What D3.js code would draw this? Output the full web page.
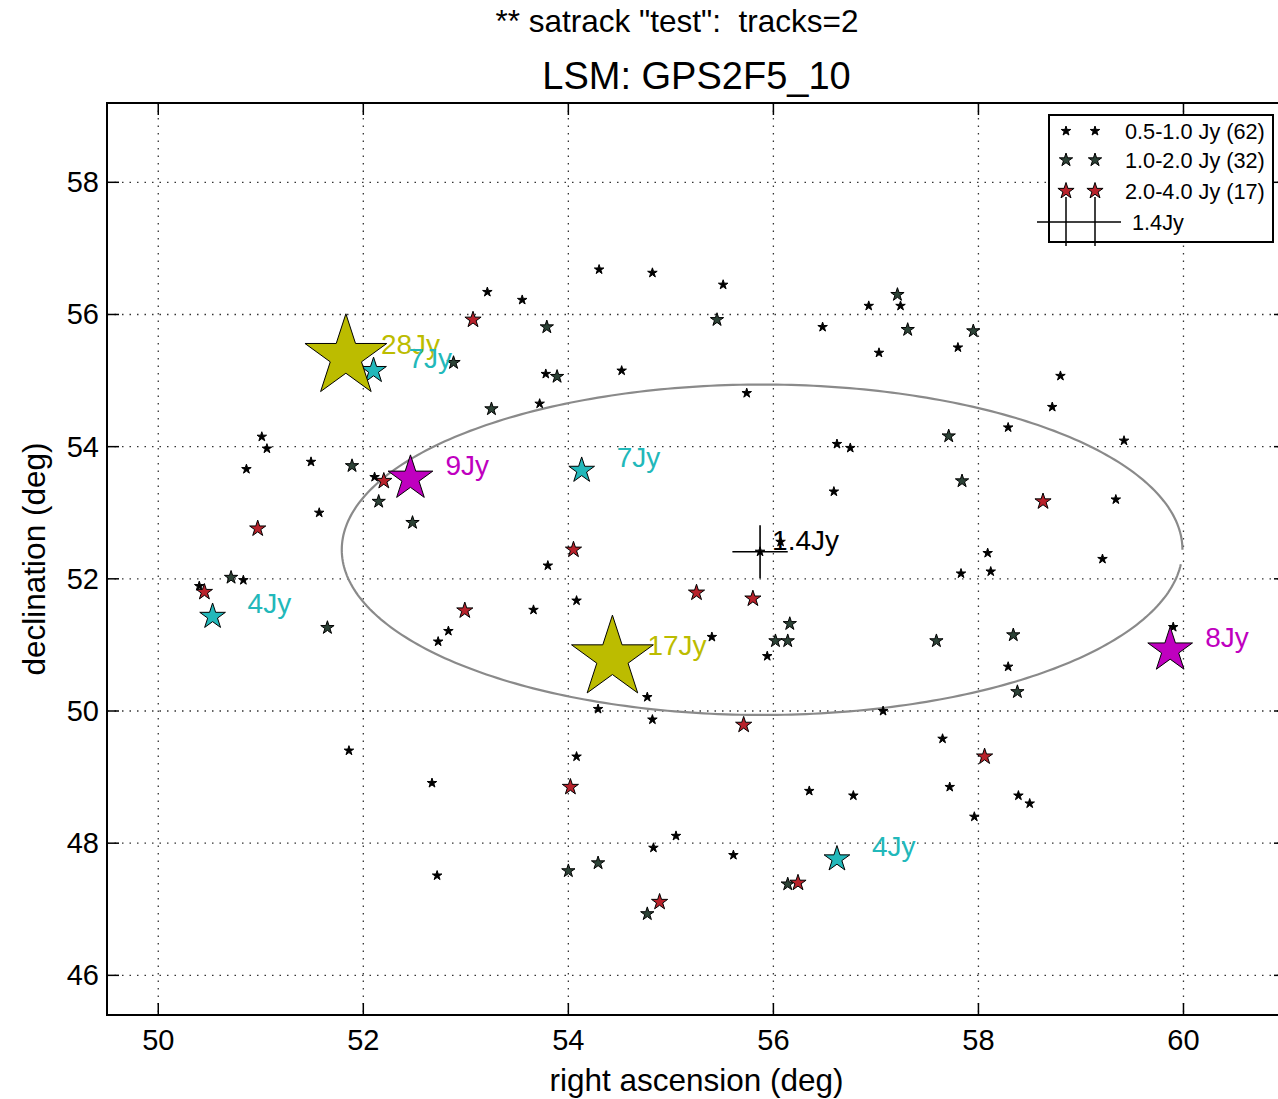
<!DOCTYPE html>
<html>
<head>
<meta charset="utf-8">
<script src="https://cdn.jsdelivr.net/npm/d3@7"></script>
<style>
  html, body { margin: 0; padding: 0; background: #fff; }
  svg text { font-family: "Liberation Sans", Arial, sans-serif; white-space: pre; }
</style>
</head>
<body>
<svg id="chart" width="1278" height="1099"></svg>
<script>
// Sky model sources: right ascension / declination (deg)
const faintRA  = [54.30,54.82,55.51,53.21,53.55,56.48,56.93,57.24,57.80,57.03,58.80,58.72,58.29,59.42,59.34,54.52,53.78,53.72,55.74,56.62,56.75,56.59,51.01,51.06,51.49,50.86,52.11,51.57,50.40,50.83,52.83,52.73,51.86,52.67,53.80,56.07,54.08,53.66,55.40,55.94,54.77,54.29,54.82,57.07,54.08,56.35,56.78,55.05,58.09,59.21,57.83,58.12,59.90,58.29,57.65,57.72,58.39,58.50,57.96,54.83,52.72,55.61];
const faintDec = [56.68,56.63,56.45,56.34,56.22,55.81,56.13,56.13,55.50,55.42,55.07,54.60,54.29,54.09,53.20,55.15,55.10,54.65,54.81,54.04,53.98,53.32,54.15,53.97,53.77,53.66,53.54,53.00,51.89,51.98,51.21,51.05,49.40,48.91,52.20,52.56,51.67,51.53,51.12,50.83,50.21,50.03,49.87,50.00,49.31,48.79,48.72,48.11,52.39,52.30,52.08,52.11,51.27,50.67,49.58,48.85,48.72,48.60,48.40,47.93,47.51,47.82];

const midRA  = [55.45,53.79,57.21,57.31,57.95,57.71,57.84,53.89,52.88,53.25,51.89,52.15,52.48,50.71,51.65,56.16,56.02,56.14,57.59,58.34,58.38,54.29,54.00,54.77,56.14];
const midDec = [55.92,55.81,56.30,55.77,55.75,54.16,53.48,55.06,55.27,54.57,53.71,53.17,52.85,52.02,51.26,51.32,51.06,51.06,51.06,51.15,50.29,47.70,47.58,46.93,47.38];

const brightRA  = [53.07,58.63,52.20,50.97,50.45,52.99,54.05,55.25,55.80,55.71,54.02,58.06,54.89,56.24];
const brightDec = [55.92,53.17,53.48,52.76,51.80,51.52,52.44,51.79,51.70,49.79,48.85,49.31,47.11,47.40];

// Strong sources, labelled with their flux
const strongRA   = [52.10,54.13,50.53,56.62,52.46,59.87,51.83,54.43];
const strongDec  = [55.15,53.64,51.43,47.76,53.52,50.92,55.36,50.80];
const strongFlux = [7, 7, 4, 4, 9, 8, 28, 17];

// Central source with error bars
const centreRA = 55.87, centreDec = 52.41, centreFlux = 1.4;
const centreErrRA = 0.27, centreErrDec = 0.40;

// Ellipse around the field centre
const ellRA = 55.89, ellDec = 52.44, ellHalfRA = 4.1, ellHalfDec = 2.5;

const legendLabels = ["0.5-1.0 Jy (62)", "1.0-2.0 Jy (32)", "2.0-4.0 Jy (17)", "1.4Jy"];
const xTicks = [50, 52, 54, 56, 58, 60];
const yTicks = [46, 48, 50, 52, 54, 56, 58];

const svg = d3.select("#chart");
const plotL = 107, plotR = 1286, plotT = 103, plotB = 1015;
const x = d3.scaleLinear().domain([49.5, 61]).range([plotL, plotR]);
const y = d3.scaleLinear().domain([45.4, 59.2]).range([plotB, plotT]);

// five-pointed star path centred at 0,0
function starPath(R) {
  const r = R * 0.382, pts = [];
  for (let i = 0; i < 10; i++) {
    const a = -Math.PI / 2 + i * Math.PI / 5;
    const rr = i % 2 === 0 ? R : r;
    pts.push([rr * Math.cos(a), rr * Math.sin(a)]);
  }
  return "M" + pts.map(p => p[0].toFixed(2) + "," + p[1].toFixed(2)).join("L") + "Z";
}

const styles = {
  faint:  { R: 5,    fill: "#000000" },
  mid:    { R: 7,    fill: "#2c4236" },
  bright: { R: 8.5,  fill: "#b8222b" },
  cyan:   { R: 13.5, fill: "#22b8ba" },
  mag:    { R: 23.5, fill: "#bf00bf" },
  yel:    { R: 43,   fill: "#bcbc00" }
};
function strongStyle(f) { return f >= 16 ? styles.yel : (f >= 8 ? styles.mag : styles.cyan); }

// grid
const grid = svg.append("g").attr("stroke", "#333").attr("stroke-width", 1.3).attr("stroke-dasharray", "1.5,6");
grid.selectAll("line.gx").data(xTicks).join("line")
  .attr("x1", d => x(d)).attr("x2", d => x(d)).attr("y1", plotT).attr("y2", plotB);
grid.selectAll("line.gy").data(yTicks).join("line")
  .attr("y1", d => y(d)).attr("y2", d => y(d)).attr("x1", plotL).attr("x2", plotR);

// ellipse (drawn as an open outline)
const ellPts = d3.range(0, 356, 1).map(t => {
  const a = t * Math.PI / 180;
  return [x(ellRA + ellHalfRA * Math.cos(a)), y(ellDec + ellHalfDec * Math.sin(a))];
});
svg.append("path").attr("d", d3.line()(ellPts)).attr("fill", "none")
  .attr("stroke", "#8a8a8a").attr("stroke-width", 2.2);

function drawStars(ra, dec, st) {
  svg.append("g").selectAll("path").data(ra.map((r, i) => [r, dec[i]])).join("path")
    .attr("transform", d => `translate(${x(d[0])},${y(d[1])})`)
    .attr("d", starPath(st.R)).attr("fill", st.fill)
    .attr("stroke", "#000").attr("stroke-width", 1).attr("stroke-linejoin", "miter");
}
drawStars(faintRA, faintDec, styles.faint);
drawStars(midRA, midDec, styles.mid);
drawStars(brightRA, brightDec, styles.bright);

const strong = strongRA.map((r, i) => ({ ra: r, dec: strongDec[i], f: strongFlux[i] }));
const order = strong.slice().sort((a, b) => a.f - b.f);
order.forEach(s => drawStars([s.ra], [s.dec], strongStyle(s.f)));

// flux labels
const labelOrder = strong.slice().sort((a, b) => b.f - a.f);
svg.append("g").selectAll("text").data(labelOrder).join("text")
  .attr("x", d => x(d.ra) + 35).attr("y", d => y(d.dec) - 3)
  .attr("font-size", 28).attr("fill", d => strongStyle(d.f).fill)
  .text(d => d.f + "Jy");

// central source with error bars
const cg = svg.append("g").attr("stroke", "#000").attr("stroke-width", 1.6);
cg.append("line").attr("x1", x(centreRA - centreErrRA)).attr("x2", x(centreRA + centreErrRA))
  .attr("y1", y(centreDec)).attr("y2", y(centreDec));
cg.append("line").attr("x1", x(centreRA)).attr("x2", x(centreRA))
  .attr("y1", y(centreDec - centreErrDec)).attr("y2", y(centreDec + centreErrDec));
drawStars([centreRA], [centreDec], styles.faint);
svg.append("text").attr("x", x(centreRA) + 12).attr("y", y(centreDec) - 2)
  .attr("font-size", 28).attr("fill", "#000").text(centreFlux + "Jy");

// frame and ticks
svg.append("rect").attr("x", plotL).attr("y", plotT).attr("width", plotR - plotL).attr("height", plotB - plotT)
  .attr("fill", "none").attr("stroke", "#000").attr("stroke-width", 2);
const tk = svg.append("g").attr("stroke", "#000").attr("stroke-width", 1.5);
xTicks.forEach(t => {
  tk.append("line").attr("x1", x(t)).attr("x2", x(t)).attr("y1", plotB).attr("y2", plotB - 12);
  tk.append("line").attr("x1", x(t)).attr("x2", x(t)).attr("y1", plotT).attr("y2", plotT + 12);
});
yTicks.forEach(t => {
  tk.append("line").attr("y1", y(t)).attr("y2", y(t)).attr("x1", plotL).attr("x2", plotL + 12);
  tk.append("line").attr("y1", y(t)).attr("y2", y(t)).attr("x1", plotR).attr("x2", plotR - 12);
});
svg.append("g").selectAll("text").data(xTicks).join("text")
  .attr("x", d => x(d)).attr("y", 1050).attr("text-anchor", "middle")
  .attr("font-size", 29).attr("fill", "#000").text(d => d);
svg.append("g").selectAll("text").data(yTicks).join("text")
  .attr("x", 99).attr("y", d => y(d) + 10).attr("text-anchor", "end")
  .attr("font-size", 29).attr("fill", "#000").text(d => d);

// axis labels and titles
svg.append("text").attr("x", (plotL + plotR) / 2).attr("y", 1091).attr("text-anchor", "middle")
  .attr("font-size", 31.5).attr("fill", "#000").text("right ascension (deg)");
svg.append("text").attr("transform", `translate(45,${(plotT + plotB) / 2}) rotate(-90)`)
  .attr("text-anchor", "middle").attr("font-size", 31.5).attr("fill", "#000").text("declination (deg)");
svg.append("text").attr("x", 677).attr("y", 32).attr("text-anchor", "middle")
  .attr("font-size", 31.5).attr("fill", "#000").text('** satrack "test":  tracks=2');
svg.append("text").attr("x", (plotL + plotR) / 2).attr("y", 89).attr("text-anchor", "middle")
  .attr("font-size", 38).attr("fill", "#000").text("LSM: GPS2F5_10");

// legend
const lg = svg.append("g");
lg.append("rect").attr("x", 1049).attr("y", 115).attr("width", 224).attr("height", 127)
  .attr("fill", "#fff").attr("stroke", "#000").attr("stroke-width", 2);
const rowY = [131, 160, 191, 222];
const legStyles = [styles.faint, styles.mid, styles.bright];
legStyles.forEach((st, i) => {
  [1066, 1095].forEach(px => {
    lg.append("path").attr("transform", `translate(${px},${rowY[i]})`).attr("d", starPath(st.R))
      .attr("fill", st.fill).attr("stroke", "#000").attr("stroke-width", 1);
  });
  lg.append("text").attr("x", 1125).attr("y", rowY[i] + 8).attr("font-size", 21.7).attr("fill", "#000")
    .text(legendLabels[i]);
});
lg.append("line").attr("x1", 1037).attr("x2", 1121).attr("y1", rowY[3]).attr("y2", rowY[3])
  .attr("stroke", "#000").attr("stroke-width", 1.5);
[1066, 1095].forEach(px => {
  lg.append("line").attr("x1", px).attr("x2", px).attr("y1", 197).attr("y2", 246)
    .attr("stroke", "#000").attr("stroke-width", 1.5);
});
lg.append("text").attr("x", 1132).attr("y", rowY[3] + 8).attr("font-size", 21.7).attr("fill", "#000")
  .text(legendLabels[3]);
</script>
</body>
</html>
